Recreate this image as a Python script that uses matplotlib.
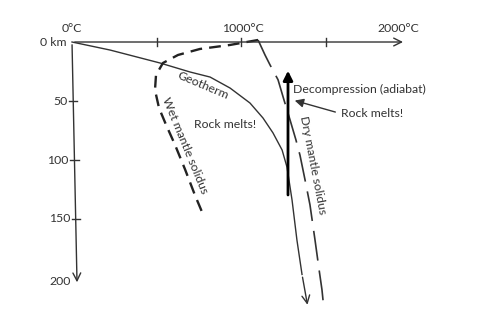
import matplotlib
matplotlib.use("Agg")
import matplotlib.pyplot as plt

plt.rcParams['font.family'] = ['Lato', 'DejaVu Sans']

# temperature in degC, depth in km
geo_T = [0, 225, 521, 698, 817, 935, 1053, 1130, 1189, 1243, 1272, 1302, 1331, 1361, 1396]
geo_d = [0, 6.8, 17.8, 25.4, 29.7, 39, 51.7, 64.4, 77, 91.5, 106, 134, 168, 197, 225]

wet_T = [1101, 935, 757, 627, 538, 497, 491, 515, 556, 609, 669, 728, 775]
wet_d = [-1.7, 2.5, 5.9, 11, 17.8, 28, 40.7, 56, 70, 87, 108, 130, 146]

dry_T = [1101, 1142, 1172, 1219, 1254, 1290, 1325, 1349, 1379, 1408, 1438, 1462, 1479, 1491]
dry_d = [-1.7, 11, 19.5, 32, 49, 66, 83, 96, 117, 138, 168, 193, 210, 227]

t_ticks = [500, 1000, 1500]
t_labels = ['0°C', '1000°C', '2000°C']
t_label_pos = [0, 1012, 1929]
d_ticks = [50, 100, 150]
d_labels = ['0 km', '50', '100', '150', '200']
d_label_pos = [0, 50, 100, 150, 203]

adiabat_T = 1278
adiabat_d = (132, 22)
melt_from = (1574, 60)
melt_to = (1302, 49)

ink = '#333333'
fs = 8.8

fig = plt.figure(figsize=(4.8, 3.2), dpi=100)
ax = fig.add_axes([0, 0, 1, 1])
ax.set_xlim(-426, 2414)
ax.set_ylim(235.6, -35.6)
ax.axis('off')

# hand-drawn axes
ax.annotate('', xy=(1975, 0), xytext=(0, 0),
            arrowprops=dict(arrowstyle='->', color=ink, lw=1.0, mutation_scale=14))
ax.annotate('', xy=(30, 206), xytext=(0, 0),
            arrowprops=dict(arrowstyle='->', color=ink, lw=1.0, mutation_scale=14))

for t in t_ticks:
    ax.plot([t, t], [-3.5, 3.5], color=ink, lw=1.0)
for d in d_ticks:
    x0 = 30 * d / 206
    ax.plot([x0 - 24, x0 + 24], [d, d], color=ink, lw=1.0)

for t, lab in zip(t_label_pos, t_labels):
    ax.text(t, -11.5, lab, ha='center', va='center', fontsize=fs, color=ink)
for d, lab in zip(d_label_pos, d_labels):
    x0 = 30 * d / 206
    ax.text(x0 - 34, d, lab, ha='right', va='center', fontsize=fs, color=ink)

# geotherm
ax.plot(geo_T[:-1], geo_d[:-1], color=ink, lw=1.0)
ax.annotate('', xy=(geo_T[-1], geo_d[-1]), xytext=(geo_T[-2], geo_d[-2]),
            arrowprops=dict(arrowstyle='->', color=ink, lw=1.0, mutation_scale=14))

# solidus curves
ax.plot(wet_T, wet_d, color='#222222', lw=1.7, dashes=(5, 3))
ax.plot(dry_T, dry_d, color=ink, lw=1.2, dashes=(18, 6))

# decompression arrow
ax.annotate('', xy=(adiabat_T, adiabat_d[1]), xytext=(adiabat_T, adiabat_d[0]),
            arrowprops=dict(arrowstyle='-|>', color='black', lw=2.0, mutation_scale=14))
ax.annotate('', xy=melt_to, xytext=melt_from,
            arrowprops=dict(arrowstyle='-|>', color=ink, lw=1.0, mutation_scale=13))

ax.text(775, 37, 'Geotherm', rotation=-23, ha='center', va='center', fontsize=fs, color=ink)
ax.text(669, 88, 'Wet mantle solidus', rotation=-67.6, ha='center', va='center',
        fontsize=fs, color=ink, rotation_mode='anchor')
ax.text(905, 70, 'Rock melts!', ha='center', va='center', fontsize=fs, color=ink)
ax.text(1308, 40, 'Decompression (adiabat)', ha='left', va='center', fontsize=fs, color=ink)
ax.text(1592, 61, 'Rock melts!', ha='left', va='center', fontsize=fs, color=ink)
ax.text(1424, 104, 'Dry mantle solidus', rotation=-79, ha='center', va='center',
        fontsize=fs, color=ink, rotation_mode='anchor')

fig.savefig('out.png', dpi=100)
